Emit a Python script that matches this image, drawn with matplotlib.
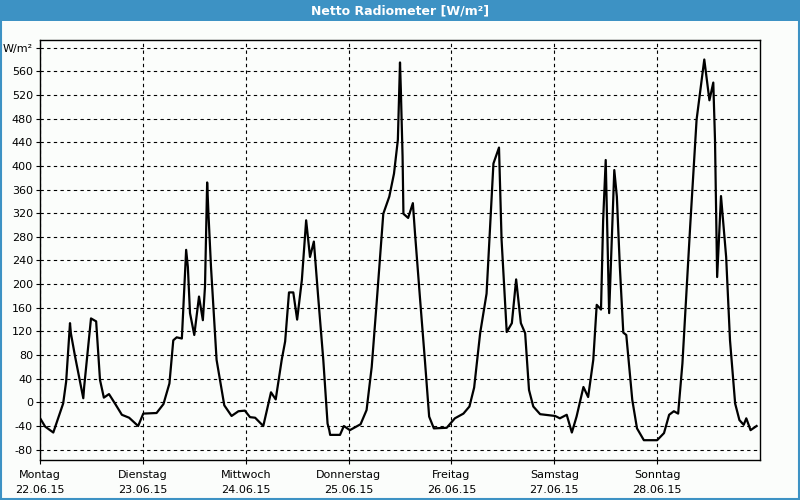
import matplotlib.pyplot as plt
from matplotlib.patches import Rectangle

# hours since Monday 00:00
hours = [0.2, 1.2, 3.1, 5.4, 6.1, 7.0, 7.2, 8.2, 10.1, 10.3, 11.9, 13.1, 14.0, 14.9,
         16.1, 17.5, 19.1, 20.8, 22.9, 24.1, 27.2, 28.8, 30.2, 31.1, 31.9, 33.1,
         34.1, 34.5, 35.0, 36.0, 37.1, 38.0, 38.5, 39.0, 39.3, 39.9, 41.2, 43.0,
         44.7, 46.3, 47.8, 49.0, 50.2, 52.1, 53.9, 55.0, 56.4, 57.2, 58.1, 59.1,
         60.0, 61.1, 62.1, 63.0, 63.9, 64.9, 66.1, 67.1, 67.5, 67.7, 70.0, 70.9,
         72.3, 74.8, 76.2, 77.4, 78.6, 80.1, 81.5, 82.6, 83.5, 84.0, 84.2, 84.6,
         84.8, 85.9, 87.0, 87.5, 88.7, 89.8, 90.8, 91.9, 94.9, 96.8, 98.8, 100.2,
         101.3, 102.7, 104.2, 105.8, 107.1, 107.7, 108.9, 110.1, 111.1, 112.2,
         113.2, 114.1, 115.1, 116.7, 120.2, 121.3, 122.9, 124.1, 125.2, 126.8,
         127.9, 129.1, 129.9, 130.9, 131.4, 132.0, 132.8, 134.0, 134.6, 135.3,
         136.1, 136.8, 138.2, 139.3, 140.9, 144.0, 145.6, 146.8, 147.9, 148.9,
         149.9, 151.7, 153.2, 155.0, 156.2, 157.1, 157.5, 158.0, 158.9, 160.1,
         161.0, 162.2, 163.2, 164.2, 164.8, 165.8, 167.2]
values = [-29, -41, -51, -2, 35, 134, 117, 77, 7, 26, 142, 137, 38, 8,
          14, -2, -21, -26, -40, -19, -18, -3, 32, 105, 110, 108,
          258, 229, 151, 114, 179, 139, 196, 372, 320, 229, 72, -5,
          -23, -15, -14, -25, -26, -40, 17, 5, 72, 103, 186, 186,
          140, 207, 308, 246, 272, 179, 72, -36, -47, -55, -55, -40,
          -47, -37, -13, 60, 173, 319, 348, 387, 444, 575, 528, 416,
          319, 312, 337, 286, 173, 72, -24, -44, -43, -27, -19, -7,
          25, 117, 184, 404, 431, 275, 119, 134, 208, 134,
          117, 21, -7, -20, -23, -27, -21, -51, -24, 26,
          9, 72, 165, 157, 308, 410, 151, 393, 348, 229,
          118, 114, 4, -44, -64, -64, -52, -21, -15, -19,
          66, 297, 478, 580, 511, 541, 444, 212, 349, 246,
          105, -2, -30, -38, -27, -47, -40]

day_names = ["Montag", "Dienstag", "Mittwoch", "Donnerstag", "Freitag", "Samstag", "Sonntag"]
day_dates = ["22.06.15", "23.06.15", "24.06.15", "25.06.15", "26.06.15", "27.06.15", "28.06.15"]
y_ticks = list(range(-80, 601, 40))
y_labels = [str(v) for v in y_ticks[:-1]] + ["W/m²"]

bg = "#fbfdfb"
blue = "#3d92c4"

fig = plt.figure(figsize=(8, 5), dpi=100, facecolor=bg)

# title bar and frame
fig.patches.append(Rectangle((0, 0.958), 1, 0.042, transform=fig.transFigure,
                             facecolor=blue, edgecolor="none", zorder=0))
fig.patches.append(Rectangle((0.001, 0.002), 0.998, 0.996, transform=fig.transFigure,
                             facecolor="none", edgecolor=blue, lw=1.5, zorder=1))
fig.text(0.5, 0.979, "Netto Radiometer [W/m²]", color="white", ha="center",
         va="center", fontsize=9, fontweight="bold")

ax = fig.add_axes([0.05, 0.08, 0.90, 0.84], facecolor=bg)
ax.plot(hours, values, color="black", lw=1.6, zorder=3)

ax.set_xlim(0, 168)
ax.set_ylim(-97.5, 613)
ax.set_xticks([24 * i for i in range(7)])
ax.set_xticklabels([n + "\n" + d for n, d in zip(day_names, day_dates)],
                   fontsize=8, linespacing=1.6)
ax.set_yticks(y_ticks)
ax.set_yticklabels(y_labels, fontsize=8)
ax.tick_params(direction="out", length=3, width=0.8, pad=2, colors="black")
ax.tick_params(axis="x", pad=4)
ax.grid(True, color="black", lw=0.8, linestyle=(0, (3, 3)))

for s in ax.spines.values():
    s.set_linewidth(1.0)

plt.savefig("out.png", dpi=100, facecolor=bg)
